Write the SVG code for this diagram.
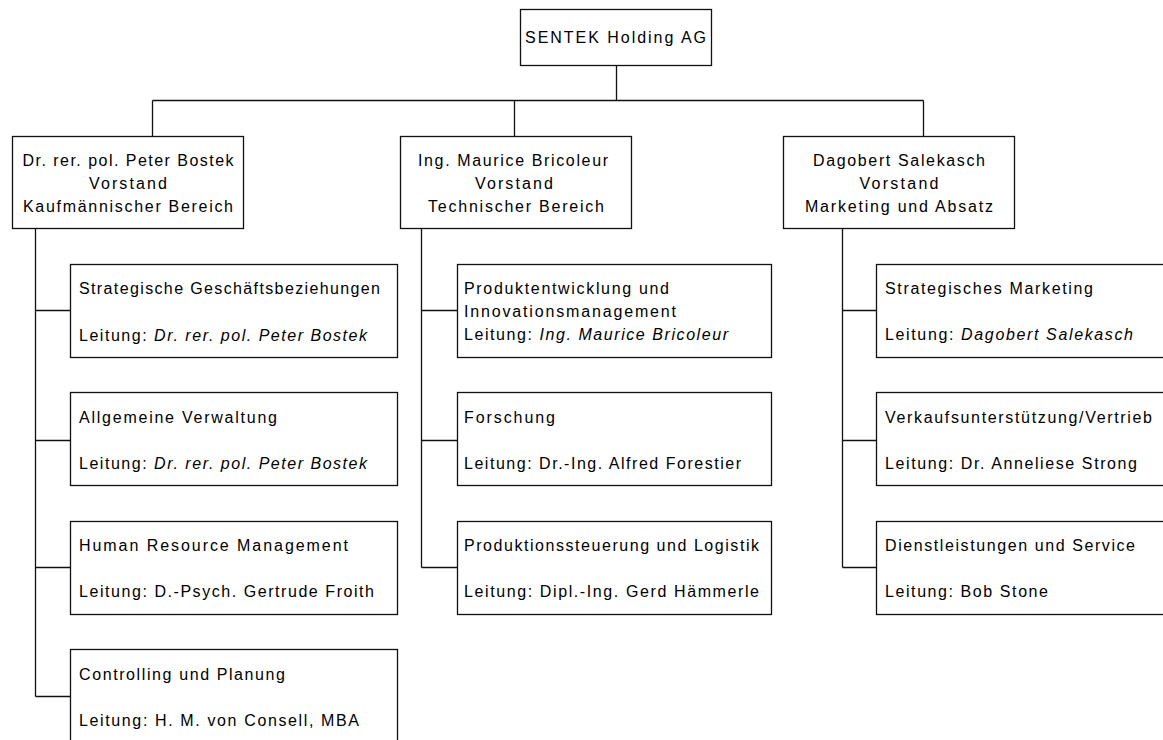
<svg xmlns="http://www.w3.org/2000/svg" width="1163" height="740" viewBox="0 0 1163 740">
<style>
.box{fill:#fff;stroke:#111;stroke-width:1.3}
.ln{fill:none;stroke:#111;stroke-width:1.3}
text{font-family:"Liberation Sans",Arial,sans-serif;font-size:16px;fill:#000}
.c{text-anchor:middle}
.i{font-style:italic}
</style>
<rect width="1163" height="740" fill="#fff"/>
<g id="connectors">
<path class="ln" d="M616.5,66 V100.5 M152.5,100.5 H923.5 M152.5,100.5 V136 M514.5,100.5 V136 M923.5,100.5 V136"/>
<path class="ln" d="M35.5,229 V696.5 M35.5,310.5 H70 M35.5,440.5 H70 M35.5,567.5 H70 M35.5,696.5 H70"/>
<path class="ln" d="M421.5,229 V567.5 M421.5,310.5 H457 M421.5,440.5 H457 M421.5,567.5 H457"/>
<path class="ln" d="M842.5,229 V567.5 M842.5,310.5 H876 M842.5,440.5 H876 M842.5,567.5 H876"/>
</g>
<g id="root">
<rect class="box" x="520.5" y="9.5" width="191" height="56"/>
<text x="525" y="43" textLength="181" lengthAdjust="spacing">SENTEK Holding AG</text>
</g>
<g id="vorstand-kaufm">
<rect class="box" x="12.5" y="136.5" width="231" height="92"/>
<text class="c" x="128" y="166" textLength="211" lengthAdjust="spacing">Dr. rer. pol. Peter Bostek</text>
<text class="c" x="128" y="189" textLength="78" lengthAdjust="spacing">Vorstand</text>
<text class="c" x="128" y="212" textLength="210" lengthAdjust="spacing">Kaufmännischer Bereich</text>
</g>
<g id="vorstand-tech">
<rect class="box" x="400.5" y="136.5" width="231" height="92"/>
<text class="c" x="513" y="166" textLength="190" lengthAdjust="spacing">Ing. Maurice Bricoleur</text>
<text class="c" x="514" y="189" textLength="78" lengthAdjust="spacing">Vorstand</text>
<text class="c" x="516" y="212" textLength="176" lengthAdjust="spacing">Technischer Bereich</text>
</g>
<g id="vorstand-marketing">
<rect class="box" x="783.5" y="136.5" width="231" height="92"/>
<text class="c" x="899" y="166" textLength="172" lengthAdjust="spacing">Dagobert Salekasch</text>
<text class="c" x="899" y="189" textLength="79" lengthAdjust="spacing">Vorstand</text>
<text class="c" x="899" y="212" textLength="188" lengthAdjust="spacing">Marketing und Absatz</text>
</g>
<g id="strat-gesch">
<rect class="box" x="70.5" y="264.5" width="327" height="93"/>
<text x="79" y="294" textLength="301" lengthAdjust="spacing">Strategische Geschäftsbeziehungen</text>
<text x="79" y="341" textLength="288" lengthAdjust="spacing">Leitung: <tspan class="i">Dr. rer. pol. Peter Bostek</tspan></text>
</g>
<g id="allg-verw">
<rect class="box" x="70.5" y="392.5" width="327" height="93"/>
<text x="79" y="423" textLength="198" lengthAdjust="spacing">Allgemeine Verwaltung</text>
<text x="79" y="469" textLength="288" lengthAdjust="spacing">Leitung: <tspan class="i">Dr. rer. pol. Peter Bostek</tspan></text>
</g>
<g id="hrm">
<rect class="box" x="70.5" y="521.5" width="327" height="93"/>
<text x="79" y="551" textLength="269" lengthAdjust="spacing">Human Resource Management</text>
<text x="79" y="597" textLength="295" lengthAdjust="spacing">Leitung: D.-Psych. Gertrude Froith</text>
</g>
<g id="controlling">
<rect class="box" x="70.5" y="649.5" width="327" height="93"/>
<text x="79" y="680" textLength="206" lengthAdjust="spacing">Controlling und Planung</text>
<text x="79" y="726" textLength="280" lengthAdjust="spacing">Leitung: H. M. von Consell, MBA</text>
</g>
<g id="produktentwicklung">
<rect class="box" x="457.5" y="264.5" width="314" height="93"/>
<text x="464" y="294" textLength="205" lengthAdjust="spacing">Produktentwicklung und</text>
<text x="464" y="317" textLength="212" lengthAdjust="spacing">Innovationsmanagement</text>
<text x="464" y="340" textLength="264" lengthAdjust="spacing">Leitung: <tspan class="i">Ing. Maurice Bricoleur</tspan></text>
</g>
<g id="forschung">
<rect class="box" x="457.5" y="392.5" width="314" height="93"/>
<text x="464" y="423" textLength="91" lengthAdjust="spacing">Forschung</text>
<text x="464" y="469" textLength="277" lengthAdjust="spacing">Leitung: Dr.-Ing. Alfred Forestier</text>
</g>
<g id="produktionssteuerung">
<rect class="box" x="457.5" y="521.5" width="314" height="93"/>
<text x="464" y="551" textLength="295" lengthAdjust="spacing">Produktionssteuerung und Logistik</text>
<text x="464" y="597" textLength="295" lengthAdjust="spacing">Leitung: Dipl.-Ing. Gerd Hämmerle</text>
</g>
<g id="strat-marketing">
<rect class="box" x="876.5" y="264.5" width="320" height="93"/>
<text x="885" y="294" textLength="208" lengthAdjust="spacing">Strategisches Marketing</text>
<text x="885" y="340" textLength="248" lengthAdjust="spacing">Leitung: <tspan class="i">Dagobert Salekasch</tspan></text>
</g>
<g id="verkauf">
<rect class="box" x="876.5" y="392.5" width="320" height="93"/>
<text x="885" y="423" textLength="267" lengthAdjust="spacing">Verkaufsunterstützung/Vertrieb</text>
<text x="885" y="469" textLength="252" lengthAdjust="spacing">Leitung: Dr. Anneliese Strong</text>
</g>
<g id="dienstleistungen">
<rect class="box" x="876.5" y="521.5" width="320" height="93"/>
<text x="885" y="551" textLength="250" lengthAdjust="spacing">Dienstleistungen und Service</text>
<text x="885" y="597" textLength="163" lengthAdjust="spacing">Leitung: Bob Stone</text>
</g>
</svg>
